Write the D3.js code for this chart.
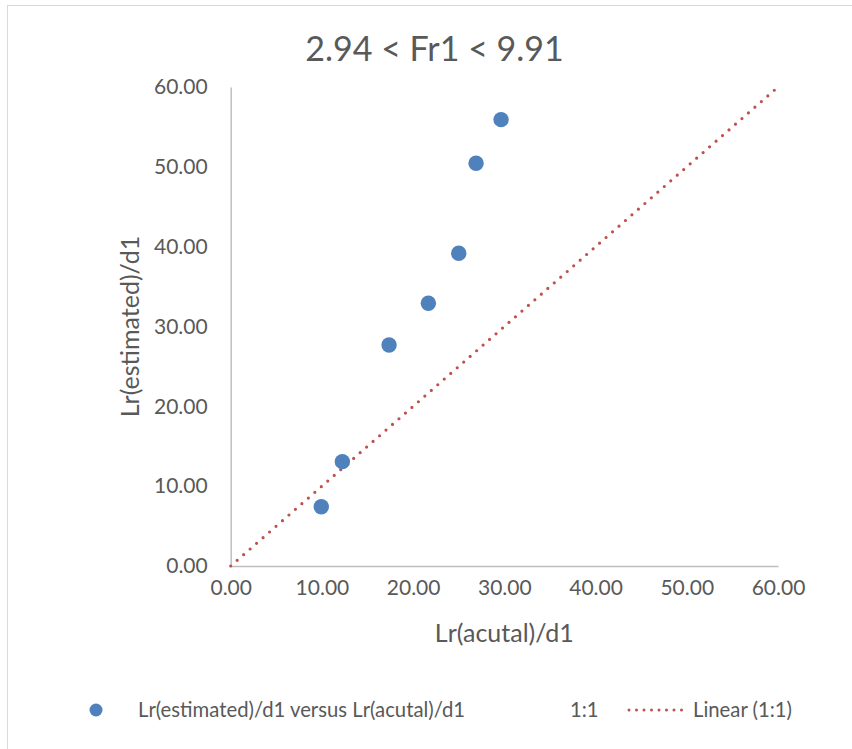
<!DOCTYPE html>
<html>
<head>
<meta charset="utf-8">
<script src="https://cdn.jsdelivr.net/npm/d3@7"></script>
<style>
  html, body { margin: 0; padding: 0; background: #fff; }
  svg { display: block; font-family: Lato, "Open Sans", sans-serif; }
</style>
</head>
<body>
<svg id="chart" width="852" height="749"></svg>
<script>
const title = "2.94 < Fr1 < 9.91";
const xTitle = "Lr(acutal)/d1";
const yTitle = "Lr(estimated)/d1";
const seriesName = "Lr(estimated)/d1 versus Lr(acutal)/d1";
const lineSeriesName = "1:1";
const trendName = "Linear (1:1)";

const lrActual = [9.93, 12.24, 17.36, 21.67, 25.0, 26.9, 29.64];
const lrEstimated = [7.43, 13.07, 27.68, 32.91, 39.17, 50.45, 55.91];
const oneToOneX = [0, 60];
const oneToOneY = [0, 60];
const tickValues = [0, 10, 20, 30, 40, 50, 60];

const svg = d3.select("#chart");
const textColor = "#595959";
const axisColor = "#bfbfbf";
const blue = "#4f81bd";
const red = "#c0504d";

// chart border
svg.append("rect")
  .attr("x", 7.5).attr("y", 5.5)
  .attr("width", 900).attr("height", 800)
  .attr("fill", "none").attr("stroke", "#d9d9d9").attr("stroke-width", 1);

const x = d3.scaleLinear().domain([0, 60]).range([230.7, 778]);
const y = d3.scaleLinear().domain([0, 60]).range([566, 87]);

// title
svg.append("text")
  .attr("x", 434.5).attr("y", 61)
  .attr("text-anchor", "middle")
  .attr("fill", textColor)
  .attr("font-size", 34)
  .text(title);

// axes
const xAxis = d3.axisBottom(x).tickValues(tickValues).tickSize(0).tickPadding(14)
  .tickFormat(d3.format(".2f"));
const yAxis = d3.axisLeft(y).tickValues(tickValues).tickSize(0).tickPadding(23)
  .tickFormat(d3.format(".2f"));

const gx = svg.append("g").attr("transform", `translate(0,${y(0)})`).call(xAxis);
const gy = svg.append("g").attr("transform", `translate(${x(0)},0)`).call(yAxis);
[gx, gy].forEach(g => {
  g.select(".domain").attr("stroke", axisColor).attr("stroke-width", 1.5);
  g.selectAll("text").attr("fill", textColor).attr("font-size", 21)
    .attr("font-family", "Lato, 'Open Sans', sans-serif");
});

// axis titles
svg.append("text")
  .attr("x", (x(0) + x(60)) / 2).attr("y", 642)
  .attr("text-anchor", "middle").attr("fill", textColor)
  .attr("font-size", 25).text(xTitle);
svg.append("text")
  .attr("transform", `translate(139,${(y(0) + y(60)) / 2}) rotate(-90)`)
  .attr("text-anchor", "middle").attr("fill", textColor)
  .attr("font-size", 25).text(yTitle);

// 1:1 linear trendline (dotted)
const line = d3.line().x(d => x(d[0])).y(d => y(d[1]));
svg.append("path")
  .datum(oneToOneX.map((v, i) => [v, oneToOneY[i]]))
  .attr("d", line)
  .attr("fill", "none").attr("stroke", red)
  .attr("stroke-width", 3.2).attr("stroke-linecap", "round")
  .attr("stroke-dasharray", "0 8.6");

// scatter points
svg.append("g").selectAll("circle")
  .data(lrActual.map((v, i) => [v, lrEstimated[i]]))
  .join("circle")
  .attr("cx", d => x(d[0])).attr("cy", d => y(d[1]))
  .attr("r", 7.7).attr("fill", blue);

// legend
const ly = 710;
svg.append("circle").attr("cx", 96).attr("cy", ly).attr("r", 6.5).attr("fill", blue);
svg.append("text").attr("x", 138).attr("y", ly + 7).attr("fill", textColor)
  .attr("font-size", 20.3).text(seriesName);
svg.append("text").attr("x", 570).attr("y", ly + 7).attr("fill", textColor)
  .attr("font-size", 20.3).text(lineSeriesName);
svg.append("line").attr("x1", 629).attr("x2", 689).attr("y1", ly).attr("y2", ly)
  .attr("stroke", red).attr("stroke-width", 3).attr("stroke-linecap", "round")
  .attr("stroke-dasharray", "0 7.5");
svg.append("text").attr("x", 693).attr("y", ly + 7).attr("fill", textColor)
  .attr("font-size", 20.3).text(trendName);
</script>
</body>
</html>
